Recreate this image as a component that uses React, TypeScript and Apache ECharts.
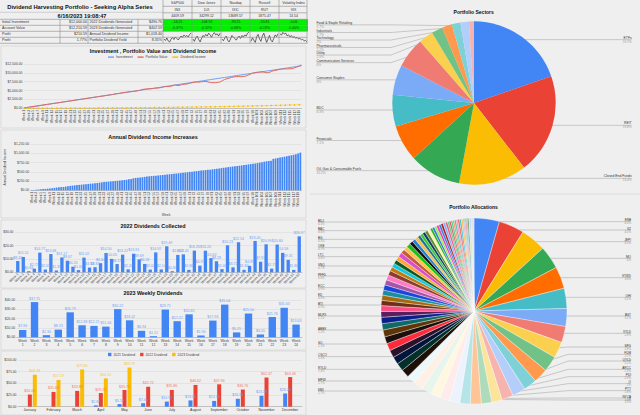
import React, { useEffect, useRef } from "react";
import * as echarts from "echarts";

const FONT = "'Liberation Sans', Arial, sans-serif";

const investment = [100,200,300,400,500,600,700,800,900,1000,1100,1200,1300,1400,1500,1600,1700,1800,1900,2000,2100,2200,2300,2400,2500,2600,2700,2800,2900,3000,3100,3200,3300,3400,3500,3600,3700,3800,3900,4000,4100,4200,4300,4400,4500,4600,4700,4800,4900,5000,5100,5200,5300,5400,5500,5600,5700,5800,5900,6000,6100,6200,6300,6400,6500,6600,6700,6800,6900,7000,7100,7200,7300,7400,7500,7600,7700,7800,7900,8000,8100,8200,8300,8400,8500,8600,8700,8800,8900,9000,9100,9200,9300,9400,9500,9600,9700,9800,9900,10000,10100,10200,10300,10400,10500,10600,10700,10800,10900,11000,11100,11200,11300,11400,11500,11600,11700,11800,11900,12000];
const portfolioValue = [100,199,303,398,502,601,697,805,902,995,1104,1198,1302,1405,1497,1601,1695,1806,1902,2003,2096,2208,2305,2397,2502,2610,2695,2804,2908,2994,3110,3196,3312,3402,3488,3596,3705,3790,3905,4030,4150,4230,4370,4490,4540,4650,4720,4790,4880,4990,5120,5340,5430,5510,5490,5560,5640,5690,5760,5890,6050,6150,6110,6250,6420,6620,6400,6560,6720,6800,6870,7050,7220,7380,7420,7360,7490,7540,7590,7420,7280,7220,7230,7290,7420,7760,8120,8350,8520,8710,8860,8930,8960,8910,8990,9050,9350,9600,9900,10050,10180,10220,10280,10180,10040,10060,10380,10600,10720,10890,10990,11090,11130,11110,11150,11180,11420,11650,11920,12210];
const dividendIncome = [0,0,1,1,2,3,3,4,5,6,7,8,10,12,14,16,18,20,22,25,28,31,34,37,40,43,47,51,55,59,63,67,71,76,81,87,92,97,103,108,112,116,119,121,129,141,142,145,160,162,175,177,188,196,200,202,213,217,220,227,241,251,258,271,273,287,297,303,305,320,322,341,342,355,369,371,387,392,408,419,427,429,449,453,475,477,482,505,513,534,537,558,572,582,584,611,619,657,659,667,694,707,719,730,760,778,785,786,816,833,858,860,878,913,918,944,947,969,1000,1014];
const annualIncome = [5,10,16,22,28,34,38,44,50,58,66,74,80,86,92,100,108,118,126,134,140,146,152,160,166,172,178,184,192,198,206,214,222,228,234,240,246,252,258,264,270,278,286,296,308,326,334,340,348,354,362,370,378,384,390,396,402,408,414,422,428,434,440,446,452,460,466,472,480,488,496,504,512,518,526,534,540,546,552,558,566,574,582,590,600,608,616,626,634,642,650,656,664,672,682,690,700,708,716,724,736,748,760,772,784,792,796,848,860,872,884,896,908,920,934,946,958,975,995,1018];
const dividends2022 = [8.45,11.51,0.84,2.73,14.77,2.07,13.68,1.35,11.17,8.67,4.2,1.65,11.02,3.53,3.83,6.84,14.5,10.05,6.19,13.22,2.2,13.91,9.69,6.28,2.02,14.92,2.14,19.49,0.83,13.02,13.45,1.8,16.26,4.97,16.2,10.62,8.28,2.4,20.23,3.72,22.54,1.84,4.85,23.4,7.91,20.99,2.73,20.8,14.58,9.31,1.8,26.97];
const weekly2023 = [7.84,37.75,2.3,8.23,26.79,12.89,12.21,11.44,30.22,18.22,6.94,1.21,29.71,17.27,24.65,1.96,17.93,35.04,5.25,25.5,3.05,21.76,31.63,13.63];
const months = ["January","February","March","April","May","June","July","August","September","October","November","December"];
const monthly2021 = [null,null,null,2.87,5.59,7.45,10.92,13.46,12.38,16.96,23.38,28.28];
const monthly2022 = [26.05,31.62,33.86,29.25,35.75,42.72,35.86,46.62,47.96,36.76,62.47,63.48];
const monthly2023 = [68.38,57.19,79.8,60.53,83.79,null,null,null,null,null,null,null];

const sectorNames = ["ETFs","REIT","Closed End Funds","Oil, Gas & Consumable Fuels","Financials","BDC","Consumer Staples","Communication Services","Utility","Pharmaceuticals","Technology","Industrials","Food & Staple Retailing","Other"];
const sectorValues = [19.8,19.9,13.5,10.3,7.2,6.3,6.0,6.0,2.9,2.2,2.0,1.7,1.7,1.0];
const sectorColors = ["#4285f4","#ea4335","#fbbc04","#34a853","#ff6d01","#46bdc6","#7baaf7","#f07b72","#fcd04f","#71c287","#ff994d","#7ed1d7","#b3cefb","#f7b4ae"];

const allocNames = ["ENB","VZ","JEPI","MO","STWD","OHI","BST","XYLD","SPG","FDM","QYLD","ARCC","PDI","O","PTY","NYCB","T","UTF","RQI","HYT","KMI","PFF","MPW","AGNC","RYLD","PSEC","CSCO","EPD","SO","MAIN","ABBV","IRM","MLPX","KHC","PM","BTI","DUK","ED","ECC","TFSL","GILD","PFFD","WPC","VNQ","CLM","CRF","LTC","PBA","MMM","OKE","USA","GOF","BMY","BG","JNJ","DVN","KO","NLY","UVV","BIZD","BAC","PEP","WBA","IBM","CVX","XOM","FSK","GLAD","BDJ","ETV","NEP","TGT","LYB","AMT","CCI","ABT","MCD","LOW","HTGC","SBRA","STAG","VICI","ADC","PG","CL","HRZN","BXMT"];
const allocValues = [4.4,4.4,4.4,4.0,3.8,3.5,3.1,2.8,2.8,2.7,2.5,2.3,2.3,2.0,1.8,1.8,1.9,1.8,1.8,1.7,1.7,1.7,1.7,1.5,1.4,1.4,1.3,1.3,1.3,1.2,1.2,1.1,1.1,1.0,1.0,0.9,0.9,0.9,0.9,0.9,0.9,0.8,0.7,0.7,0.7,0.7,0.8,0.7,0.7,0.7,0.6,0.6,0.6,0.5,0.5,0.5,0.5,0.5,0.4,0.4,0.4,0.4,0.4,0.4,0.4,0.4,0.3,0.3,0.3,0.3,0.3,0.3,0.3,0.3,0.3,0.2,0.2,0.2,0.2,0.2,0.2,0.2,0.1,0.1,0.1,0.1,0.1];
const allocColors = ["#4285f4","#ea4335","#fbbc04","#34a853","#ff6d01","#46bdc6","#7baaf7","#f07b72","#fcd04f","#71c287","#ff994d","#7ed1d7","#b3cefb","#f7b4ae","#fde49b","#aedcba","#ffc599","#b5e5e8","#ecf3fe","#fdecea","#fff7e0","#e8f5ec","#fff0e6","#ecf8f9","#1c0f06","#04302a","#00143c","#2a1228","#ff2a3c","#1a0f0a","#5e3408","#0f6a66","#0a1f8a","#5a1e5e","#ff4a86","#6e2f14","#a5680f","#178fa0","#1a45dc","#a855a8","#ff7ac8","#8e3c2a","#c07a12","#12c8de","#0f5a22","#ffa436","#d84fd0","#c85a3a","#ffc24a","#18c018","#111111","#2b7fd0","#f2c14e","#1f6f8b","#33cc33","#0d3f66","#5e8c31","#fdf3b0","#24b524","#2c79d6","#99ee44","#e835c9","#2f86dd","#b01c1c","#7fb3ff","#f05a8a","#50c878","#d94f4f","#3ad07a","#ff8a65","#4db6ac","#f48fb1","#ef5350","#26c6da","#ffb74d","#ce93d8","#81c784","#e57373","#64b5f6","#2e7d32","#c5e1a5","#90caf9","#ffcc80","#80cbc4","#ef9a9a","#b39ddb","#a5d6a7"];

const weeks = investment.map((_, i) => `Week ${i + 1}`);
const weeks52 = dividends2022.map((_, i) => `Week ${i + 1}`);
const weeks24 = weekly2023.map((_, i) => `Week ${i + 1}`);

const indexNames = ["S&P500","Dow Jones","Nasdaq","Russell","Volatility Index"];
const indexTickers = ["INX","DJI","IXIC","RUT","VIX"];
const indexValues = ["4409.59","34299.12","13689.57","1875.47","13.54"];
const indexChange = ["-16.25","-108.94","-93.25","-53.81","-0.06"];
const indexPct = ["-0.37%","-0.32%","-0.68%","-0.19%","-1.00%"];
const sparkInx = [40,37,42,36,34,40,43,39,44,41,38,42,46,43,48,45,47,44,49,52];
const sparkDji = [42,38,44,47,41,37,43,48,46,50,47,52,49,45,50,53,49,51,47,52];
const sparkIxic = [36,33,38,41,34,31,36,42,39,37,34,38,41,37,42,39,43,41,46,48];
const sparkRut = [38,44,40,36,46,50,42,38,47,52,44,36,42,48,40,37,43,49,46,51];
const sparkVix = [50,46,54,49,52,44,47,41,45,39,42,37,40,35,37,33,34,30,31,27];
const sparks = [sparkInx, sparkDji, sparkIxic, sparkRut, sparkVix];

const leftRows = [["Initial Investment","$12,000.00"],["Account Value","$12,210.59"],["Profit","$210.59"],["Profit","1.77%"]];
const rightRows = [["2022 Dividends Generated","$490.76"],["2023 Dividends Generated","$402.59"],["Annual Dividend Income","$1,018.40"],["Portfolio Dividend Yield","8.35%"]];

const sectorLabelY: Record<string, number> = {"Food & Staple Retailing":74.5,"Industrials":97.5,"Technology":120,"Pharmaceuticals":142.5,"Utility":165,"Communication Services":188,"Consumer Staples":239.5,"BDC":330,"Financials":421.5,"Oil, Gas & Consumable Fuels":512,"ETFs":119,"REIT":376,"Closed End Funds":535};
const allocLabelY: Record<string, number> = {ENB:65,VZ:90,JEPI:125,MO:175,STWD:233,OHI:292,BST:348,XYLD:400,SPG:441,FDM:463,QYLD:483,ARCC:508,PDI:530,O:551,PTY:572,NYCB:594,BDJ:66,BAC:92,BG:118,OKE:143,LTC:170,VNQ:198,PFFD:228,ECC:263,ED:290,BTI:315,MLPX:348,ABBV:390,SO:432,CSCO:470,RYLD:508,MPW:543,KMI:573,T:600};

const money = (v: number) => "$" + Number(v).toLocaleString("en-US", { minimumFractionDigits: 2, maximumFractionDigits: 2 });

function txt(text: string, x: number, y: number, size: number, align = "left", weight = "normal", fill = "#333") {
  return { type: "text", silent: true, x, y, z: 10, style: { text, fontSize: size, fontWeight: weight, fontFamily: FONT, fill, align, textAlign: align, verticalAlign: "middle", textVerticalAlign: "middle" } };
}
function rule(x1: number, y1: number, x2: number, y2: number, color = "#8a8a8a") {
  return { type: "line", silent: true, z: 9, shape: { x1, y1, x2, y2 }, style: { stroke: color, lineWidth: 0.6 } };
}
function box(x: number, y: number, width: number, height: number, fill: string, stroke = "none") {
  return { type: "rect", silent: true, z: 1, shape: { x, y, width, height }, style: { fill, stroke, lineWidth: 0.7 } };
}

function tableElements() {
  const els: any[] = [];
  els.push(box(1, 46, 305, 82, "none", "#d4d4d4"), box(1, 130, 305, 88, "none", "#d4d4d4"), box(1, 220, 305, 68, "none", "#d4d4d4"), box(1, 289, 305, 61, "none", "#d4d4d4"), box(1, 351, 305, 64, "none", "#d4d4d4"));
  els.push(rule(310, 194, 640, 194, "#cfcfcf"));
  els.push(txt("Dividend Harvesting Portfolio - Seeking Alpha Series", 80, 7, 5.8, "center", "bold", "#111"));
  els.push(txt("6/16/2023 19:08:47", 82, 15.5, 5.6, "center", "bold", "#111"));
  const ys = [19.3, 25.3, 31.3, 37.3, 43.3];
  ys.forEach((y) => els.push(rule(0, y, 307, y)));
  els.push(rule(0, 12.3, 163, 12.3, "#bbb"));
  els.push(rule(163, 6.3, 307, 6.3), rule(163, 12.8, 307, 12.8));
  [60, 88, 138].forEach((x) => els.push(rule(x, 19.3, x, 43.3)));
  leftRows.forEach((r, i) => {
    const y = 22.4 + i * 6;
    els.push(txt(r[0], 2, y, 3.6), txt(r[1], 87, y, 3.6, "right"));
    els.push(txt(rightRows[i][0], 89.5, y, 3.6), txt(rightRows[i][1], 162, y, 3.6, "right"));
  });
  const colX = [163, 192, 221, 250, 279];
  colX.forEach((x, i) => {
    els.push(box(x, 19.3, 29, 6, "#00f000"), box(x, 25.3, 29, 6, "#00f000"));
    const c = x + 14.5;
    els.push(txt(indexNames[i], c, 3.2, 3.5, "center"), txt(indexTickers[i], c, 9.6, 3.5, "center"), txt(indexValues[i], c, 16, 3.5, "center"));
    els.push(txt(indexChange[i], c, 22.4, 3.5, "center", "normal", "#114411"), txt(indexPct[i], c, 28.4, 3.5, "center", "normal", "#114411"));
    els.push(rule(x, 0, x, 43.3));
  });
  els.push(rule(307, 0, 307, 44));
  return els;
}

function pieLayout(names: string[], values: number[], cx: number, cy: number, r: number, ys: Record<string, number>, leftX: number, rightX: number, elbow: (right: boolean, ax: number, ay: number) => number) {
  const total = values.reduce((a, b) => a + b, 0);
  return (params: any) => {
    const i = params.dataIndex;
    let before = 0;
    for (let k = 0; k < i; k++) before += values[k];
    const ang = ((before + values[i] / 2) / total) * Math.PI * 2;
    const ax = cx + Math.sin(ang) * r * 0.95;
    const ay = cy - Math.cos(ang) * r * 0.95;
    const right = ang < Math.PI;
    const ly = ys[names[i]] / 3 + (cy < 200 ? 0 : 200);
    const edge = right ? rightX : leftX;
    const ex = elbow(right, ax, ay);
    return {
      x: edge, y: ly, align: right ? "right" : "left", verticalAlign: "middle", hideOverlap: false,
      labelLinePoints: [[edge, ly], [ex, ly], [ax, ay]],
    };
  };
}

export default function App() {
  const ref = useRef<HTMLDivElement>(null);
  useEffect(() => {
    document.body.style.margin = "0";
    const chart = echarts.init(ref.current!, undefined, { renderer: "svg" });
    const axisText = { fontSize: 3.4, color: "#444", fontFamily: FONT, margin: 1.5 };
    const split = { show: true, lineStyle: { color: "#dadada", width: 0.6 } };
    const axisLine = { show: true, lineStyle: { color: "#a8a8a8", width: 0.6 } };
    const yAxis = (gridIndex: number, max: number, interval: number, extra: any = {}) => ({
      type: "value", gridIndex, min: 0, max, interval, axisLine: { show: false }, axisTick: { show: false }, splitLine: split,
      axisLabel: { ...axisText, formatter: money }, ...extra,
    });
    const xAxis = (gridIndex: number, data: string[], label: any, extra: any = {}) => ({
      type: "category", gridIndex, data, axisTick: { show: false }, axisLine, axisLabel: { ...axisText, ...label }, ...extra,
    });
    const dataLabel = (color: string) => ({ show: true, position: "top", distance: 1.5, fontSize: 3.6, color, fontFamily: FONT, formatter: (p: any) => money(p.value) });
    const title = (text: string, left: number, top: number, size = 5.4) => ({ text, left, top, padding: 0, textAlign: "center", textStyle: { fontSize: size, fontWeight: "bold", color: "#111", fontFamily: FONT } });

    const sectorLabels = sectorValues.map((v, i) => ({
      name: sectorNames[i], value: v, itemStyle: { color: sectorColors[i] },
      label: { show: sectorNames[i] !== "Other" }, labelLine: { show: sectorNames[i] !== "Other" },
    }));
    const allocData = allocValues.map((v, i) => {
      const shown = allocLabelY[allocNames[i]] !== undefined;
      return { name: allocNames[i], value: v, itemStyle: { color: allocColors[i % allocColors.length] }, label: { show: shown }, labelLine: { show: shown } };
    });
    const pieLabel = (size: number, lh: number) => ({
      formatter: "{n|{b}}\n{p|{d}%}", fontFamily: FONT, lineHeight: lh,
      rich: { n: { fontSize: size, color: "#333", fontFamily: FONT, lineHeight: lh }, p: { fontSize: size - 0.2, color: "#999", fontFamily: FONT, lineHeight: lh } },
    });
    const pieLine = { show: true, smooth: false, lineStyle: { color: "#bcbcbc", width: 0.8 } };

    const sparkGrids = [163, 192, 221, 250, 279].map((x) => ({ left: x + 1, width: 27, top: 32, height: 10.5 }));

    chart.setOption({
      animation: false,
      backgroundColor: "#efefef",
      textStyle: { fontFamily: FONT },
      title: [
        title("Investment , Portfolio Value and Dividend Income", 153, 48),
        title("Annual Dividend Income Increases", 153, 134),
        title("2022 Dividends Collected", 153, 223),
        title("2023 Weekly Dividends", 153, 290),
        title("Portfolio Sectors", 473.7, 9, 5),
        title("Portfolio Allocations", 473.5, 204, 5),
      ],
      legend: [
        { left: 108, top: 55.6, padding: 0, icon: "rect", itemWidth: 6, itemHeight: 1.4, itemGap: 5, data: ["Investment", "Portfolio Value", "Dividend Income"], textStyle: { fontSize: 3.4, color: "#444", padding: [0, 0, 0, -3] } },
        { left: 108, top: 352.8, padding: 0, icon: "rect", itemWidth: 3.4, itemHeight: 3.4, itemGap: 5, data: ["2021 Dividend", "2022 Dividend", "2023 Dividend"], textStyle: { fontSize: 3.4, color: "#444", padding: [0, 0, 0, -3] } },
      ],
      grid: [
        { left: 24, right: 338.5, top: 64, height: 44.3 },
        { left: 30.7, right: 338.5, top: 144, height: 46.3 },
        { left: 15, right: 338, top: 232.3, height: 40 },
        { left: 16.7, right: 338, top: 300, height: 37.3 },
        { left: 18, right: 338, top: 360, height: 46.7 },
        ...sparkGrids,
      ],
      xAxis: [
        xAxis(0, weeks, { rotate: 90, interval: 1 }, { boundaryGap: false }),
        xAxis(1, weeks, { rotate: 90, interval: 1 }, { name: "Week", nameLocation: "middle", nameGap: 23, nameTextStyle: { fontSize: 3.4, color: "#444" } }),
        xAxis(2, weeks52, { rotate: 45, interval: 0 }),
        xAxis(3, weeks24, { interval: 0, lineHeight: 4, formatter: (v: string) => v.replace(" ", "\n") }),
        xAxis(4, months, { interval: 0, color: "#333", fontSize: 3.5 }),
        ...sparks.map((s, i) => ({ type: "category", gridIndex: 5 + i, show: false, boundaryGap: false, data: s.map((_, k) => String(k)) })),
      ],
      yAxis: [
        yAxis(0, 12500, 2500),
        yAxis(1, 1250, 250, { name: "Annual Dividend Income", nameLocation: "middle", nameGap: 24, nameTextStyle: { fontSize: 3.4, color: "#444" } }),
        yAxis(2, 30, 10),
        yAxis(3, 40, 10),
        yAxis(4, 100, 25),
        ...sparks.map((_, i) => ({ type: "value", gridIndex: 5 + i, show: false, scale: true, splitLine: { show: false } })),
      ],
      series: [
        { type: "line", name: "Investment", xAxisIndex: 0, yAxisIndex: 0, data: investment, showSymbol: false, lineStyle: { color: "#6f9ff5", width: 1 }, itemStyle: { color: "#6f9ff5" } },
        { type: "line", name: "Portfolio Value", xAxisIndex: 0, yAxisIndex: 0, data: portfolioValue, showSymbol: false, lineStyle: { color: "#e4675c", width: 1 }, itemStyle: { color: "#e4675c" } },
        { type: "line", name: "Dividend Income", xAxisIndex: 0, yAxisIndex: 0, data: dividendIncome, showSymbol: true, symbol: "circle", symbolSize: 1.6, lineStyle: { color: "#fbbc04", width: 0.5 }, itemStyle: { color: "#fbbc04" } },
        { type: "bar", name: "Annual Dividend Income", xAxisIndex: 1, yAxisIndex: 1, data: annualIncome, barCategoryGap: "25%", itemStyle: { color: "#4285f4" } },
        { type: "bar", name: "2022 Dividends", xAxisIndex: 2, yAxisIndex: 2, data: dividends2022, barCategoryGap: "40%", itemStyle: { color: "#4285f4" }, label: dataLabel("#6f9ff5") },
        { type: "bar", name: "2023 Weekly", xAxisIndex: 3, yAxisIndex: 3, data: weekly2023, barCategoryGap: "38%", itemStyle: { color: "#4285f4" }, label: dataLabel("#6f9ff5") },
        { type: "bar", name: "2021 Dividend", xAxisIndex: 4, yAxisIndex: 4, data: monthly2021, barWidth: 4, barGap: "25%", itemStyle: { color: "#4285f4" }, label: dataLabel("#6f9ff5") },
        { type: "bar", name: "2022 Dividend", xAxisIndex: 4, yAxisIndex: 4, data: monthly2022, barWidth: 4, barGap: "25%", itemStyle: { color: "#ea4335" }, label: dataLabel("#ee7a70") },
        { type: "bar", name: "2023 Dividend", xAxisIndex: 4, yAxisIndex: 4, data: monthly2023, barWidth: 4, barGap: "25%", itemStyle: { color: "#fbbc04" }, label: dataLabel("#f5c842") },
        ...sparks.map((s, i) => ({ type: "line", xAxisIndex: 5 + i, yAxisIndex: 5 + i, data: s, showSymbol: false, lineStyle: { color: "#111", width: 0.6 } })),
        {
          type: "pie", name: "Sectors", center: [474, 103], radius: [0, 81.7], startAngle: 90, percentPrecision: 1, avoidLabelOverlap: false, silent: true,
          data: sectorLabels, label: pieLabel(3.4, 3.8), labelLine: pieLine,
          labelLayout: pieLayout(sectorNames, sectorValues, 474, 103, 81.7, sectorLabelY, 316.5, 631.7, (right, ax, ay) => (!right && ay < 60 ? Math.min(391, ax) : ax)),
        },
        {
          type: "pie", name: "Allocations", center: [474, 311], radius: [0, 93], startAngle: 90, percentPrecision: 1, avoidLabelOverlap: false, silent: true,
          itemStyle: { borderColor: "#fff", borderWidth: 0.35 },
          data: allocData, label: pieLabel(3.1, 2.9), labelLine: pieLine,
          labelLayout: pieLayout(allocNames, allocValues, 474, 311, 93, allocLabelY, 318, 631, (right, ax, ay) => (right && ay > 345 ? 568 : ax)),
        },
      ],
      graphic: { elements: tableElements() },
    });
    return () => chart.dispose();
  }, []);
  return <div ref={ref} style={{ position: "fixed", left: 0, top: 0, width: 640, height: 415 }} />;
}
